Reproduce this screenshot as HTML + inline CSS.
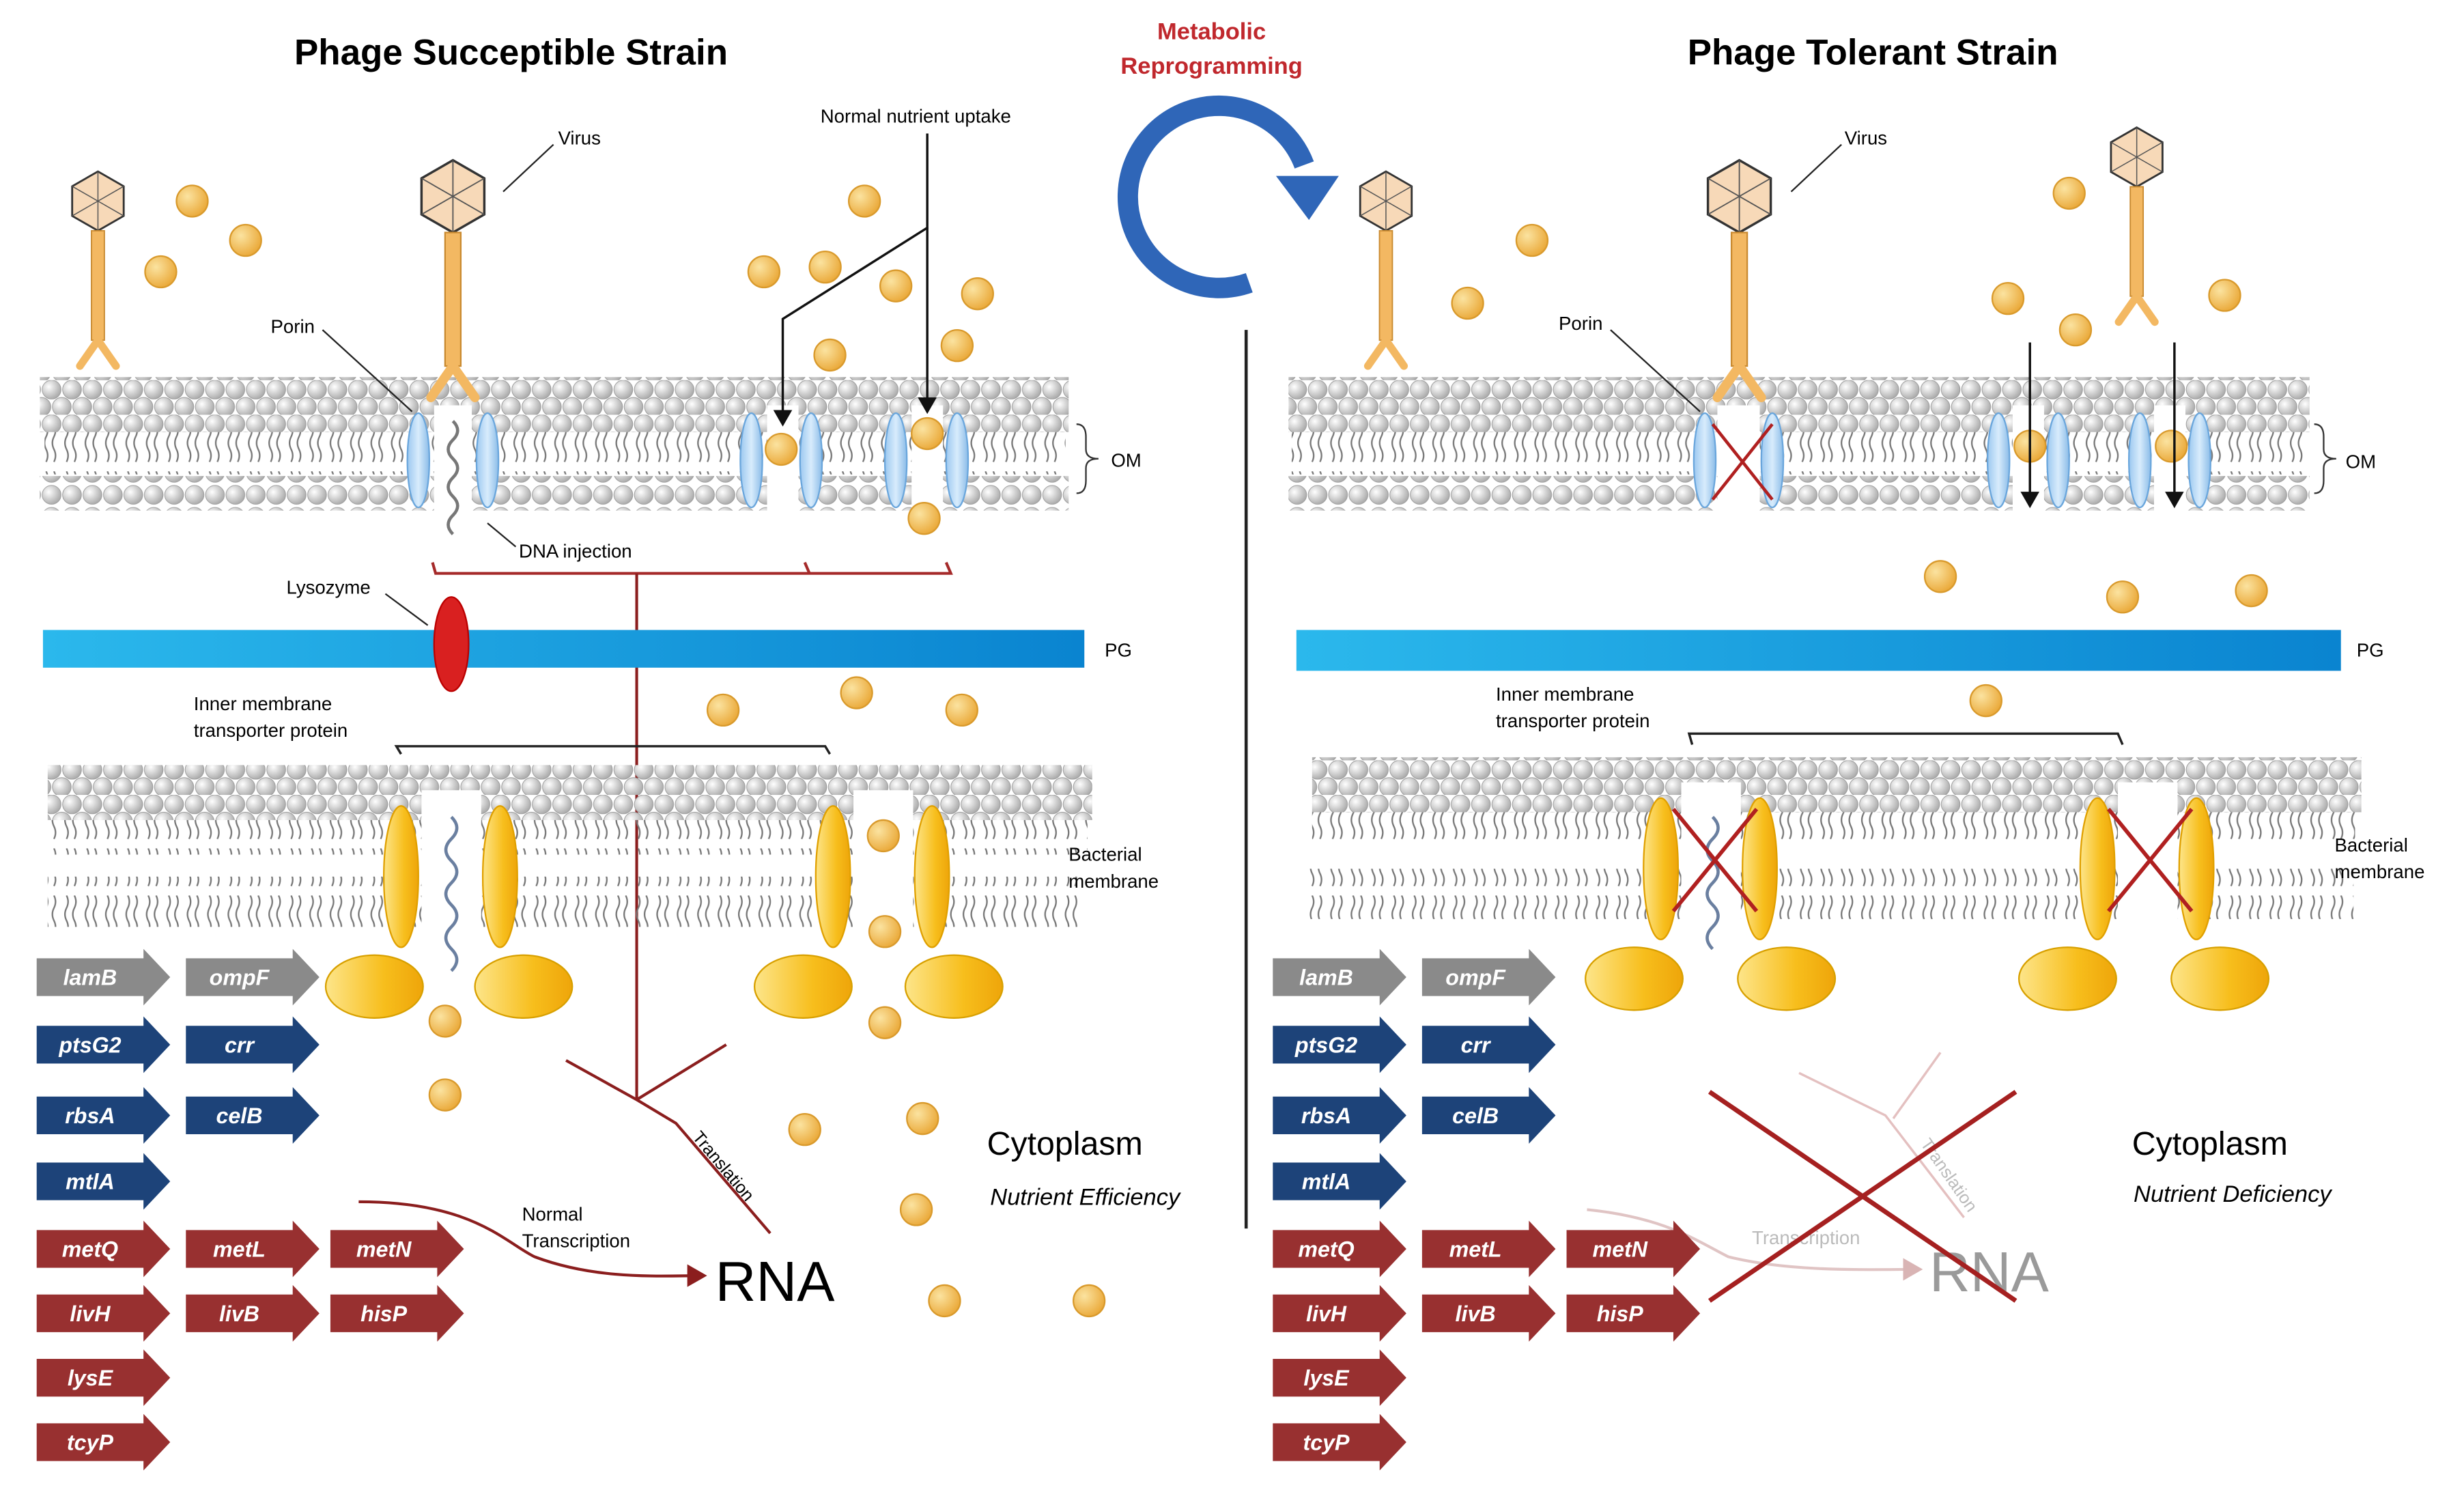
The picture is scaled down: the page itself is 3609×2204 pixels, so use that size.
<!DOCTYPE html>
<html><head><meta charset="utf-8"><style>
html,body{margin:0;padding:0;background:#fff}
svg{display:block}
text{font-family:"Liberation Sans",sans-serif}
.g{font-weight:bold;font-style:italic;fill:#fff;font-size:14px;text-anchor:middle}
</style></head><body>
<svg width="3609" height="2204" viewBox="0 0 1568 958" xmlns="http://www.w3.org/2000/svg">
<defs>
<radialGradient id="hg" cx="0.35" cy="0.35" r="0.7"><stop offset="0" stop-color="#fff"/><stop offset="1" stop-color="#a8a8a8"/></radialGradient>
<radialGradient id="ng" cx="0.35" cy="0.35" r="0.7"><stop offset="0" stop-color="#fbe3a0"/><stop offset="1" stop-color="#eaa838"/></radialGradient>
<linearGradient id="pg" x1="0" x2="1"><stop offset="0" stop-color="#2bb8ec"/><stop offset="1" stop-color="#0a84d0"/></linearGradient>
<linearGradient id="yg" x1="0" x2="1"><stop offset="0" stop-color="#fde58a"/><stop offset="0.6" stop-color="#f7be1c"/><stop offset="1" stop-color="#eea50a"/></linearGradient>
<linearGradient id="bg" x1="0" x2="1"><stop offset="0" stop-color="#9cc8f0"/><stop offset="0.5" stop-color="#d8ecfc"/><stop offset="1" stop-color="#8bbce8"/></linearGradient>
<pattern id="heads" width="13" height="22" patternUnits="userSpaceOnUse">
<circle cx="6.5" cy="6" r="6" fill="url(#hg)" stroke="#999" stroke-width="0.4"/>
<circle cx="0" cy="17" r="6" fill="url(#hg)" stroke="#999" stroke-width="0.4"/>
<circle cx="13" cy="17" r="6" fill="url(#hg)" stroke="#999" stroke-width="0.4"/>
</pattern>
<pattern id="row" width="13" height="14" patternUnits="userSpaceOnUse">
<circle cx="6.5" cy="7" r="6" fill="url(#hg)" stroke="#999" stroke-width="0.4"/>
</pattern>
<pattern id="tails" width="13" height="30" patternUnits="userSpaceOnUse">
<path d="M3 0 q2 4 0 8 q-2 4 0 8 q2 4 0 8 M8 0 q2 4 0 8 q-2 4 0 8 q2 4 0 8" fill="none" stroke="#777" stroke-width="1"/>
</pattern>
<marker id="ar" markerWidth="8" markerHeight="8" refX="6" refY="4" orient="auto"><path d="M0 0 L7 4 L0 8 z" fill="#111"/></marker>
<marker id="arr" markerWidth="8" markerHeight="8" refX="6" refY="4" orient="auto"><path d="M0 0 L7 4 L0 8 z" fill="#8b1e1e"/></marker>
<marker id="arp" markerWidth="8" markerHeight="8" refX="6" refY="4" orient="auto"><path d="M0 0 L7 4 L0 8 z" fill="#d9b4b4"/></marker>
<g id="phage">
<polygon points="0,-23 20,-11.5 20,11.5 0,23 -20,11.5 -20,-11.5" fill="#f7d9b8" stroke="#333" stroke-width="1.5"/>
<path d="M-20,-11.5 L0,0 L20,-11.5 M0,0 L0,23 M-20,11.5 L0,0 L20,11.5 M0,-23 L0,0" stroke="#555" stroke-width="0.8" fill="none"/>
<rect x="-5" y="23" width="10" height="85" fill="#f3b862" stroke="#c98a30" stroke-width="1"/>
<path d="M0 108 L-14 128 M0 108 L14 128" stroke="#f3b862" stroke-width="6" stroke-linecap="round"/>
</g>
<g id="ball"><circle r="10" fill="url(#ng)" stroke="#d99a2c" stroke-width="1"/></g>
<g id="por"><ellipse rx="7" ry="30" fill="url(#bg)" stroke="#6aa6dc" stroke-width="1"/></g>
<g id="yv"><ellipse rx="11" ry="45" fill="url(#yg)" stroke="#e0a000" stroke-width="1"/></g>
<g id="yh"><ellipse rx="31" ry="20" fill="url(#yg)" stroke="#d8a000" stroke-width="1"/></g>
<path id="arrow" d="M0 -12 H68 V-18 L85 0 L68 18 V12 H0 Z"/>
</defs>

<text x="325" y="41" font-size="23" font-weight="bold" text-anchor="middle">Phage Succeptible Strain</text>
<text x="1192" y="41" font-size="23" font-weight="bold" text-anchor="middle">Phage Tolerant Strain</text>
<text x="771" y="25" font-size="15" font-weight="bold" fill="#c0282d" text-anchor="middle">Metabolic</text>
<text x="771" y="47" font-size="15" font-weight="bold" fill="#c0282d" text-anchor="middle">Reprogramming</text>
<path d="M795 180 A58 58 0 1 1 830 105" fill="none" stroke="#2f66b8" stroke-width="13"/>
<polygon points="812,112 852,112 833,140" fill="#2f66b8"/>
<line x1="793" y1="210" x2="793" y2="782" stroke="#222" stroke-width="2"/>

<!-- LEFT -->
<rect x="25" y="240" width="655" height="35" fill="url(#heads)"/>
<rect x="28" y="275" width="650" height="27" fill="url(#tails)"/>
<rect x="25" y="303" width="655" height="22" fill="url(#row)"/>
<use href="#por" x="266" y="293"/><use href="#por" x="310" y="293"/>
<use href="#por" x="478" y="293"/><use href="#por" x="516" y="293"/>
<use href="#por" x="570" y="293"/><use href="#por" x="609" y="293"/>
<rect x="488" y="258" width="20" height="68" fill="#fff"/><rect x="580" y="258" width="20" height="68" fill="#fff"/>
<rect x="276" y="258" width="24" height="70" fill="#fff"/>
<path d="M288 268 q6 6 0 12 q-6 6 0 12 q6 6 0 12 q-6 6 0 12 q6 6 0 12 q-6 6 0 12" fill="none" stroke="#777" stroke-width="2"/>
<path d="M685 270 q6 0 6 8 v8 q0 6 8 6 q-8 0 -8 6 v8 q0 8 -6 8" fill="none" stroke="#333"/>
<text x="707" y="297" font-size="12">OM</text>
<use href="#phage" transform="translate(62,128) scale(0.82)"/>
<use href="#phage" x="288" y="125"/>
<use href="#ball" x="122" y="128"/><use href="#ball" x="156" y="153"/><use href="#ball" x="102" y="173"/>
<use href="#ball" x="550" y="128"/><use href="#ball" x="486" y="173"/><use href="#ball" x="525" y="170"/><use href="#ball" x="570" y="182"/><use href="#ball" x="622" y="187"/><use href="#ball" x="609" y="220"/><use href="#ball" x="528" y="226"/>
<use href="#ball" x="497" y="286"/><use href="#ball" x="590" y="276"/><use href="#ball" x="588" y="330"/>
<text x="355" y="92" font-size="12">Virus</text><line x1="352" y1="92" x2="320" y2="122" stroke="#222"/>
<text x="172" y="212" font-size="12">Porin</text><line x1="205" y1="210" x2="262" y2="262" stroke="#222"/>
<text x="522" y="78" font-size="12">Normal  nutrient uptake</text>
<path d="M590 85 V145 L498 203 V270" fill="none" stroke="#111" stroke-width="1.5" marker-end="url(#ar)"/>
<path d="M590 145 V262" fill="none" stroke="#111" stroke-width="1.5" marker-end="url(#ar)"/>
<text x="330" y="355" font-size="12">DNA injection</text><line x1="328" y1="348" x2="310" y2="333" stroke="#222"/>
<path d="M275 358 L277 365 H605 L602 358 M512 358 L515 365" fill="none" stroke="#a52a2a" stroke-width="1.8"/>
<path d="M405 365 V700 L360 675 M405 700 L462 665 M405 700 L430 715 L490 785" fill="none" stroke="#8b1e1e" stroke-width="1.8"/>
<text transform="translate(440,724) rotate(50)" font-size="11">Translation</text>
<rect x="27" y="401" width="663" height="24" fill="url(#pg)"/>
<text x="703" y="418" font-size="12">PG</text>
<ellipse cx="287" cy="410" rx="11" ry="30" fill="#d92020" stroke="#b00"/>
<text x="182" y="378" font-size="12">Lysozyme</text><line x1="245" y1="378" x2="272" y2="398" stroke="#222"/>
<text x="123" y="452" font-size="12">Inner membrane</text>
<text x="123" y="469" font-size="12">transporter protein</text>
<path d="M255 480 L252 475 H525 L528 480" fill="none" stroke="#222" stroke-width="1.5"/>
<use href="#ball" x="460" y="452"/><use href="#ball" x="545" y="441"/><use href="#ball" x="612" y="452"/>
<rect x="30" y="487" width="665" height="35" fill="url(#heads)"/>
<rect x="32" y="522" width="660" height="22" fill="url(#tails)"/>
<rect x="30" y="558" width="660" height="32" fill="url(#tails)"/>
<use href="#yv" x="255" y="558"/><use href="#yv" x="318" y="558"/><use href="#yv" x="530" y="558"/><use href="#yv" x="593" y="558"/>
<rect x="268" y="503" width="38" height="100" fill="#fff"/><rect x="543" y="503" width="38" height="100" fill="#fff"/>
<path d="M287 520 q7 7 0 14 q-7 7 0 14 q7 7 0 14 q-7 7 0 14 q7 7 0 14 q-7 7 0 14 q7 7 0 14" fill="none" stroke="#6a7fa0" stroke-width="2"/>
<use href="#ball" x="562" y="532"/><use href="#ball" x="563" y="593"/>
<text x="680" y="548" font-size="12">Bacterial</text><text x="680" y="565" font-size="12">membrane</text>
<use href="#yh" x="238" y="628"/><use href="#yh" x="333" y="628"/><use href="#yh" x="511" y="628"/><use href="#yh" x="607" y="628"/>
<use href="#ball" x="283" y="650"/><use href="#ball" x="283" y="697"/><use href="#ball" x="563" y="651"/><use href="#ball" x="512" y="719"/><use href="#ball" x="587" y="712"/><use href="#ball" x="583" y="770"/><use href="#ball" x="601" y="828"/><use href="#ball" x="693" y="828"/>
<text x="628" y="735" font-size="21">Cytoplasm</text>
<text x="630" y="767" font-size="15" font-style="italic">Nutrient  Efficiency</text>
<path d="M228 765 C300 765 320 790 340 800 C380 815 420 812 448 812" fill="none" stroke="#8b1e1e" stroke-width="1.8" marker-end="url(#arr)"/>
<text x="332" y="777" font-size="12">Normal</text><text x="332" y="794" font-size="12">Transcription</text>
<text x="455" y="828" font-size="36">RNA</text>

<g>
<use href="#arrow" x="23" y="622" fill="#8a8a8a"/><text class="g" x="57" y="627">lamB</text>
<use href="#arrow" x="118" y="622" fill="#8a8a8a"/><text class="g" x="152" y="627">ompF</text>
<use href="#arrow" x="23" y="665" fill="#1d4379"/><text class="g" x="57" y="670">ptsG2</text>
<use href="#arrow" x="118" y="665" fill="#1d4379"/><text class="g" x="152" y="670">crr</text>
<use href="#arrow" x="23" y="710" fill="#1d4379"/><text class="g" x="57" y="715">rbsA</text>
<use href="#arrow" x="118" y="710" fill="#1d4379"/><text class="g" x="152" y="715">celB</text>
<use href="#arrow" x="23" y="752" fill="#1d4379"/><text class="g" x="57" y="757">mtlA</text>
<use href="#arrow" x="23" y="795" fill="#983030"/><text class="g" x="57" y="800">metQ</text>
<use href="#arrow" x="118" y="795" fill="#983030"/><text class="g" x="152" y="800">metL</text>
<use href="#arrow" x="210" y="795" fill="#983030"/><text class="g" x="244" y="800">metN</text>
<use href="#arrow" x="23" y="836" fill="#983030"/><text class="g" x="57" y="841">livH</text>
<use href="#arrow" x="118" y="836" fill="#983030"/><text class="g" x="152" y="841">livB</text>
<use href="#arrow" x="210" y="836" fill="#983030"/><text class="g" x="244" y="841">hisP</text>
<use href="#arrow" x="23" y="877" fill="#983030"/><text class="g" x="57" y="882">lysE</text>
<use href="#arrow" x="23" y="918" fill="#983030"/><text class="g" x="57" y="923">tcyP</text>
</g>

<!-- RIGHT -->
<rect x="820" y="240" width="650" height="35" fill="url(#heads)"/>
<rect x="822" y="275" width="645" height="27" fill="url(#tails)"/>
<rect x="820" y="303" width="650" height="22" fill="url(#row)"/>
<use href="#por" x="1085" y="293"/><use href="#por" x="1128" y="293"/>
<use href="#por" x="1272" y="293"/><use href="#por" x="1310" y="293"/>
<use href="#por" x="1362" y="293"/><use href="#por" x="1400" y="293"/>
<rect x="1093" y="258" width="27" height="68" fill="#fff"/><rect x="1281" y="258" width="20" height="68" fill="#fff"/><rect x="1371" y="258" width="20" height="68" fill="#fff"/>
<path d="M1090 270 L1128 318 M1128 270 L1090 318" stroke="#b02020" stroke-width="2"/>
<use href="#ball" x="1292" y="284"/><use href="#ball" x="1382" y="284"/>
<path d="M1292 218 V322" stroke="#111" stroke-width="1.5" marker-end="url(#ar)"/>
<path d="M1384 218 V322" stroke="#111" stroke-width="1.5" marker-end="url(#ar)"/>
<path d="M1473 270 q6 0 6 8 v8 q0 6 8 6 q-8 0 -8 6 v8 q0 8 -6 8" fill="none" stroke="#333"/>
<text x="1493" y="298" font-size="12">OM</text>
<use href="#phage" transform="translate(882,128) scale(0.82)"/>
<use href="#phage" x="1107" y="125"/>
<use href="#phage" transform="translate(1360,100) scale(0.82)"/>
<text x="1174" y="92" font-size="12">Virus</text><line x1="1172" y1="92" x2="1140" y2="122" stroke="#222"/>
<text x="992" y="210" font-size="12">Porin</text><line x1="1025" y1="210" x2="1082" y2="262" stroke="#222"/>
<use href="#ball" x="975" y="153"/><use href="#ball" x="934" y="193"/><use href="#ball" x="1317" y="123"/><use href="#ball" x="1278" y="190"/><use href="#ball" x="1321" y="210"/><use href="#ball" x="1416" y="188"/>
<use href="#ball" x="1235" y="367"/><use href="#ball" x="1351" y="380"/><use href="#ball" x="1433" y="376"/><use href="#ball" x="1264" y="446"/>
<rect x="825" y="401" width="665" height="26" fill="url(#pg)"/>
<text x="1500" y="418" font-size="12">PG</text>
<text x="952" y="446" font-size="12">Inner membrane</text>
<text x="952" y="463" font-size="12">transporter protein</text>
<path d="M1077 474 L1075 467 H1348 L1351 474" fill="none" stroke="#222" stroke-width="1.5"/>
<rect x="835" y="482" width="668" height="35" fill="url(#heads)"/>
<rect x="835" y="517" width="664" height="22" fill="url(#tails)"/>
<rect x="830" y="553" width="668" height="32" fill="url(#tails)"/>
<use href="#yv" x="1057" y="553"/><use href="#yv" x="1120" y="553"/><use href="#yv" x="1335" y="553"/><use href="#yv" x="1398" y="553"/>
<rect x="1070" y="498" width="38" height="100" fill="#fff"/><rect x="1348" y="498" width="38" height="100" fill="#fff"/>
<path d="M1090 520 q7 7 0 14 q-7 7 0 14 q7 7 0 14 q-7 7 0 14 q7 7 0 14 q-7 7 0 14" fill="none" stroke="#6a7fa0" stroke-width="2"/>
<path d="M1065 515 L1118 580 M1118 515 L1065 580 M1342 515 L1395 580 M1395 515 L1342 580" stroke="#b02020" stroke-width="2.5"/>
<text x="1486" y="542" font-size="12">Bacterial</text><text x="1486" y="559" font-size="12">membrane</text>
<use href="#yh" x="1040" y="623"/><use href="#yh" x="1137" y="623"/><use href="#yh" x="1316" y="623"/><use href="#yh" x="1413" y="623"/>
<text x="1357" y="735" font-size="21">Cytoplasm</text>
<text x="1358" y="765" font-size="15" font-style="italic">Nutrient  Deficiency</text>
<path d="M1145 683 L1200 710 L1250 775 M1205 712 L1235 670" fill="none" stroke="#e4c0c0" stroke-width="1.5"/>
<text transform="translate(1222,728) rotate(55)" font-size="11" fill="#bbb">Translation</text>
<path d="M1010 770 C1060 775 1080 790 1100 800 C1140 810 1190 808 1222 808" fill="none" stroke="#e0c4c4" stroke-width="1.8" marker-end="url(#arp)"/>
<text x="1115" y="792" font-size="12" fill="#bbb">Transcription</text>
<text x="1228" y="822" font-size="36" fill="#9a9a9a">RNA</text>
<path d="M1088 695 L1283 828 M1283 695 L1088 828" stroke="#a52020" stroke-width="3"/>
<g>
<use href="#arrow" x="810" y="622" fill="#8a8a8a"/><text class="g" x="844" y="627">lamB</text>
<use href="#arrow" x="905" y="622" fill="#8a8a8a"/><text class="g" x="939" y="627">ompF</text>
<use href="#arrow" x="810" y="665" fill="#1d4379"/><text class="g" x="844" y="670">ptsG2</text>
<use href="#arrow" x="905" y="665" fill="#1d4379"/><text class="g" x="939" y="670">crr</text>
<use href="#arrow" x="810" y="710" fill="#1d4379"/><text class="g" x="844" y="715">rbsA</text>
<use href="#arrow" x="905" y="710" fill="#1d4379"/><text class="g" x="939" y="715">celB</text>
<use href="#arrow" x="810" y="752" fill="#1d4379"/><text class="g" x="844" y="757">mtlA</text>
<use href="#arrow" x="810" y="795" fill="#983030"/><text class="g" x="844" y="800">metQ</text>
<use href="#arrow" x="905" y="795" fill="#983030"/><text class="g" x="939" y="800">metL</text>
<use href="#arrow" x="997" y="795" fill="#983030"/><text class="g" x="1031" y="800">metN</text>
<use href="#arrow" x="810" y="836" fill="#983030"/><text class="g" x="844" y="841">livH</text>
<use href="#arrow" x="905" y="836" fill="#983030"/><text class="g" x="939" y="841">livB</text>
<use href="#arrow" x="997" y="836" fill="#983030"/><text class="g" x="1031" y="841">hisP</text>
<use href="#arrow" x="810" y="877" fill="#983030"/><text class="g" x="844" y="882">lysE</text>
<use href="#arrow" x="810" y="918" fill="#983030"/><text class="g" x="844" y="923">tcyP</text>
</g>
</svg>
</body></html>
